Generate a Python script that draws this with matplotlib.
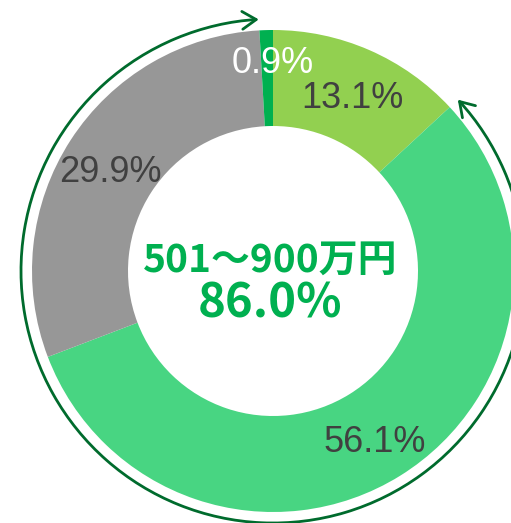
import matplotlib
matplotlib.use("Agg")
import matplotlib.pyplot as plt
from matplotlib.patches import FancyArrowPatch
from matplotlib.path import Path
from matplotlib.transforms import Affine2D

# data (clockwise from 12 o'clock)
labels = ["13.1%", "56.1%", "29.9%", "0.9%"]
values = [13.1, 56.1, 29.9, 0.9]
colors = ["#92D050", "#48D582", "#979797", "#00B050"]
label_colors = ["#404040", "#404040", "#404040", "#FFFFFF"]
center_title = "501～900万円"
center_value = "86.0%"
# slices covered by the arrow (56.1% + 29.9%)
arc_from, arc_to = 1, 2

W, H = 511, 523
fig = plt.figure(figsize=(W / 100, H / 100), dpi=100)
ax = fig.add_axes([0, 0, 1, 1])
ax.set_xlim(0, W)
ax.set_ylim(0, H)
ax.axis("off")

cx, cy = 273, 252
r_out, r_in = 241, 145

ax.pie(values, colors=colors, startangle=90, counterclock=False,
       center=(cx, cy), radius=r_out, frame=True,
       wedgeprops=dict(width=r_out - r_in, linewidth=0))
ax.set_xlim(0, W)
ax.set_ylim(0, H)
ax.set_aspect("equal")
ax.axis("off")

# percent labels, placed by hand like the original
label_pos = [(352, 415), (375, 71), (110, 341), (273, 450)]
for txt, (x, y), c in zip(labels, label_pos, label_colors):
    ax.text(x, y, txt, ha="center", va="baseline", fontsize=26,
            color=c, family="Liberation Sans")

# double-headed arc around the 86% part
total = sum(values)
p_start = sum(values[:arc_from]) / total
p_end = sum(values[:arc_to + 1]) / total
a_start = 90 - 360 * p_start
a_end = 90 - 360 * p_end
r_arc = 252
arc = Path.arc(a_end, a_start)
arc = Affine2D().scale(r_arc).translate(cx, cy).transform_path(arc)
arrow = FancyArrowPatch(path=arc, arrowstyle="<->,head_length=0.5,head_width=0.32",
                        mutation_scale=20, color="#006B2D", linewidth=2)
ax.add_patch(arrow)

# center text
plt.rcParams["font.family"] = ["Noto Sans CJK JP", "DejaVu Sans"]
ax.text(270, 251, center_title, ha="center", va="baseline", fontsize=28,
        fontweight="bold", color="#00B050")
ax.text(270, 205, center_value, ha="center", va="baseline", fontsize=34,
        fontweight="bold", color="#00B050")

fig.savefig("out.png", dpi=100)
